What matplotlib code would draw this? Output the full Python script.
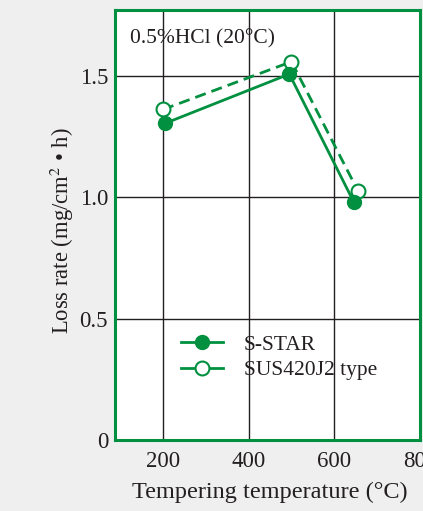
import matplotlib
matplotlib.use("Agg")
import matplotlib.pyplot as plt
from matplotlib.lines import Line2D

sstar_temp = [205, 495, 645]
sstar_loss = [1.305, 1.508, 0.982]
sus_temp = [200, 500, 655]
sus_loss = [1.362, 1.559, 1.027]

x_ticks = [200, 400, 600, 800]
y_ticks = [0, 0.5, 1.0, 1.5]
y_tick_labels = ['0', '0.5', '1.0', '1.5']

green = '#00903f'
ink = '#231f20'

plt.rcParams['font.family'] = ['Liberation Serif', 'DejaVu Serif']
plt.rcParams['mathtext.fontset'] = 'stix'

fig = plt.figure(figsize=(4.23, 5.11), dpi=100, facecolor='#efefef')
ax = fig.add_axes([115/423, 71/511, 305/423, 430/511])
ax.set_facecolor('white')

ax.plot(sstar_temp, sstar_loss, '-', color=green, lw=2.0, marker='o', ms=10,
        mfc=green, mec=green, zorder=4)
ax.plot(sus_temp, sus_loss, '--', color=green, lw=2.0, dashes=(4, 2.2), marker='o', ms=10,
        mfc='white', mec=green, mew=1.5, zorder=3)

ax.set_xlim(88, 800)
ax.set_ylim(0, 1.772)
ax.set_xticks(x_ticks)
ax.set_yticks(y_ticks)
ax.set_yticklabels(y_tick_labels)
ax.tick_params(length=0, labelsize=16.5, labelcolor=ink)
ax.tick_params(axis='x', pad=8)
ax.tick_params(axis='y', pad=5)

for v in x_ticks[:-1]:
    ax.axvline(v, color=ink, lw=1.0, zorder=1)
for v in y_ticks[1:]:
    ax.axhline(v, color=ink, lw=1.0, zorder=1)

for s in ax.spines.values():
    s.set_color(green)
    s.set_linewidth(2.2)
    s.set_zorder(5)

ax.set_xlabel('Tempering temperature (°C)', fontsize=17.5, color=ink)
ax.xaxis.set_label_coords(0.508, -0.123)
ax.xaxis.label.set_va('center')
ax.set_ylabel('Loss rate (mg/cm$^2$ • h)', fontsize=16.3, color=ink)
ax.yaxis.set_label_coords(-0.174, 0.486)
ax.yaxis.label.set_va('center')

ax.text(0.05, 0.932, '0.5%HCl (20°C)', transform=ax.transAxes, fontsize=15.5,
        color=ink, va='center', ha='left')

handles = [
    Line2D([], [], color=green, lw=2.0, marker='o', ms=10, mfc=green, mec=green),
    Line2D([], [], color=green, lw=2.0, marker='o', ms=10, mfc='white', mec=green, mew=1.5),
]
ax.legend(handles, ['S-STAR', 'SUS420J2 type'], loc='upper left',
          bbox_to_anchor=(0.217, 0.245), frameon=False,
          fontsize=15.5, handlelength=1.95, handletextpad=0.95, labelspacing=0.25,
          borderpad=0, borderaxespad=0, labelcolor=ink)

fig.savefig('out.png', dpi=100, facecolor=fig.get_facecolor())
